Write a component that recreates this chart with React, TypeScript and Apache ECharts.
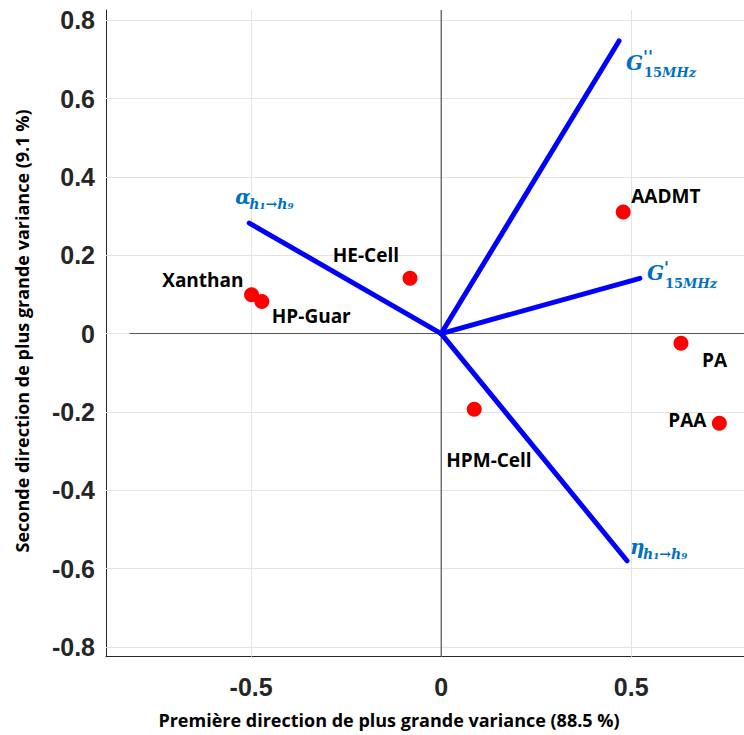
import React, { useEffect, useRef } from "react";
import * as echarts from "echarts";

// ---- data ----
const sampleNames = ["Control", "Xanthan", "HP-Guar", "HE-Cell", "AADMT", "PA", "PAA", "HPM-Cell"];
const sampleX = [-0.884, -0.499, -0.472, -0.082, 0.479, 0.631, 0.732, 0.087];
const sampleY = [-0.171, 0.099, 0.082, 0.141, 0.31, -0.025, -0.229, -0.193];

const vectorNames = ["G''15MHz", "G'15MHz", "alpha h1->h9", "eta h1->h9"];
const vectorX = [0.468, 0.523, -0.505, 0.489];
const vectorY = [0.747, 0.141, 0.282, -0.58];

const xTicks = [-0.5, 0, 0.5];
const yTicks = [-0.8, -0.6, -0.4, -0.2, 0, 0.2, 0.4, 0.6, 0.8];

const xTitle = "Première direction de plus grande variance (88.5 %)";
const yTitle = "Seconde direction de plus grande variance (9.1 %)";

// ---- styling (label placement relative to the points) ----
const X_MIN = -0.882;
const X_MAX = 0.85;
const Y_MIN = -0.825;
const Y_MAX = 0.826;

const sampleLabelPlacement: Record<string, { align: string; offset: [number, number] }> = {
  Control: { align: "left", offset: [7, 23] },
  Xanthan: { align: "right", offset: [-8, -15] },
  "HP-Guar": { align: "left", offset: [10, 15] },
  "HE-Cell": { align: "right", offset: [-11, -23] },
  AADMT: { align: "left", offset: [8, -16] },
  PA: { align: "left", offset: [21, 17] },
  PAA: { align: "right", offset: [-13, -3] },
  "HPM-Cell": { align: "left", offset: [-28, 51] },
};

const MATH_BLUE = "#0070c0";
const mathFont = "DejaVu Serif";
const labelFont = "Open Sans";

type Part = { text: string; dx: number; dy: number; size: number; lh?: number; italic?: boolean; rich?: boolean };
const vectorLabelParts: Part[][] = [
  [
    { text: "G", dx: 7, dy: 22, size: 20, lh: 18, italic: true },
    { text: "''", dx: 24, dy: 16, size: 16, lh: 7, italic: true },
    { text: "{n|15}{i|MHz}", dx: 25, dy: 31.5, size: 13, rich: true },
  ],
  [
    { text: "G", dx: 7, dy: -5, size: 20, lh: 18, italic: true },
    { text: "'", dx: 24, dy: -11, size: 16, lh: 7, italic: true },
    { text: "{n|15}{i|MHz}", dx: 25, dy: 5, size: 13, rich: true },
  ],
  [
    { text: "α", dx: -14, dy: -26, size: 20, italic: true },
    { text: "h₁→h₉", dx: 0, dy: -19, size: 14, italic: true },
  ],
  [
    { text: "η", dx: 3, dy: -14, size: 20, italic: true },
    { text: "h₁→h₉", dx: 16, dy: -7, size: 14, italic: true },
  ],
];

export default function App() {
  const ref = useRef<HTMLDivElement>(null);

  useEffect(() => {
    if (!ref.current) return;
    const chart = echarts.init(ref.current, undefined, { renderer: "svg" });

    const fmt = (v: number) => (Math.abs(v) < 1e-9 ? "0" : v.toFixed(1));

    const gridLines = [
      ...xTicks.map((x) => ({ xAxis: x })),
      ...yTicks.map((y) => ({ yAxis: y })),
    ];

    const series: any[] = [
      {
        type: "line",
        name: "zeroH",
        data: [
          [-0.82, 0],
          [X_MAX, 0],
        ],
        symbol: "none",
        silent: true,
        lineStyle: { color: "#555", width: 1 },
        z: 2,
        markLine: {
          silent: true,
          symbol: "none",
          label: { show: false },
          lineStyle: { color: "#e3e3e3", width: 1, type: "solid" },
          data: gridLines,
          z: 1,
        },
      },
      {
        type: "line",
        name: "zeroV",
        data: [
          [0, Y_MIN],
          [0, Y_MAX],
        ],
        symbol: "none",
        silent: true,
        lineStyle: { color: "#333", width: 1 },
        z: 2,
      },
      ...vectorNames.map((n, i) => ({
        type: "line",
        name: n,
        data: [
          [0, 0],
          [vectorX[i], vectorY[i]],
        ],
        symbol: "none",
        silent: true,
        lineStyle: { color: "#0000ff", width: 5, cap: "round" },
        z: 3,
      })),
      {
        type: "scatter",
        name: "samples",
        symbol: "circle",
        symbolSize: 15,
        itemStyle: { color: "#ff0000", opacity: 1 },
        z: 5,
        data: sampleNames.map((n, i) => {
          const pl = sampleLabelPlacement[n];
          return {
            name: n,
            value: [sampleX[i], sampleY[i]],
            label: {
              show: true,
              formatter: n,
              position: "inside",
              align: pl.align,
              verticalAlign: "middle",
              offset: pl.offset,
              color: "#000",
              fontFamily: labelFont,
              fontWeight: "bold",
              fontSize: 19,
            },
          };
        }),
      },
      {
        type: "custom",
        name: "vectorLabels",
        silent: true,
        z: 6,
        data: vectorX.map((x, i) => [x, vectorY[i], i]),
        renderItem: (params: any, api: any) => {
          const idx = api.value(2);
          const p = api.coord([api.value(0), api.value(1)]);
          const parts = vectorLabelParts[idx];
          return {
            type: "group",
            children: parts.map((pt) => ({
              type: "text",
              x: p[0] + pt.dx,
              y: p[1] + pt.dy,
              style: pt.rich
                ? {
                    text: pt.text,
                    fill: MATH_BLUE,
                    align: "left",
                    verticalAlign: "middle",
                    rich: {
                      n: { fontFamily: mathFont, fontWeight: "bold", fontSize: pt.size, lineHeight: 13, color: MATH_BLUE },
                      i: { fontFamily: mathFont, fontWeight: "bold", fontStyle: "italic", fontSize: pt.size, lineHeight: 13, color: MATH_BLUE },
                    },
                  }
                : {
                    text: pt.text,
                    fill: MATH_BLUE,
                    fontFamily: mathFont,
                    fontWeight: "bold",
                    fontStyle: pt.italic ? "italic" : "normal",
                    fontSize: pt.size,
                    lineHeight: pt.lh ?? pt.size,
                    align: "left",
                    verticalAlign: "middle",
                  },
            })),
          };
        },
      },
    ];

    chart.setOption({
      animation: false,
      backgroundColor: "#ffffff",
      grid: { left: 106, top: 10, width: 658.2, height: 646.7, containLabel: false },
      xAxis: {
        type: "value",
        min: X_MIN,
        max: X_MAX,
        position: "bottom",
        axisLine: { show: true, onZero: false, lineStyle: { color: "#262626", width: 1 } },
        axisTick: { show: true, inside: true, length: 7, customValues: xTicks, lineStyle: { color: "#262626" } },
        axisLabel: {
          show: true,
          customValues: xTicks,
          formatter: fmt,
          margin: 18,
          color: "#262626",
          fontFamily: "Liberation Sans",
          fontWeight: "bold",
          fontSize: 25,
        },
        splitLine: { show: false },
      },
      yAxis: {
        type: "value",
        min: Y_MIN,
        max: Y_MAX,
        position: "left",
        axisLine: { show: true, onZero: false, lineStyle: { color: "#262626", width: 1 } },
        axisTick: { show: true, inside: true, length: 7, customValues: yTicks, lineStyle: { color: "#262626" } },
        axisLabel: {
          show: true,
          customValues: yTicks,
          formatter: fmt,
          margin: 11,
          color: "#262626",
          fontFamily: "Liberation Sans",
          fontWeight: "bold",
          fontSize: 25,
        },
        splitLine: { show: false },
      },
      graphic: [
        {
          type: "text",
          x: 389,
          y: 720,
          style: {
            text: xTitle,
            fill: "#000",
            fontFamily: labelFont,
            fontWeight: "bold",
            fontSize: 18,
            align: "center",
            verticalAlign: "middle",
            textAlign: "center",
            textVerticalAlign: "middle",
          },
        },
        {
          type: "text",
          x: 22,
          y: 331,
          rotation: Math.PI / 2,
          style: {
            text: yTitle,
            fill: "#000",
            fontFamily: labelFont,
            fontWeight: "bold",
            fontSize: 18,
            align: "center",
            verticalAlign: "middle",
            textAlign: "center",
            textVerticalAlign: "middle",
          },
        },
      ],
      series,
    });

    return () => chart.dispose();
  }, []);

  return (
    <div style={{ position: "fixed", left: 0, top: 0, width: 744, height: 735, overflow: "hidden", background: "#fff" }}>
      <div ref={ref} style={{ width: 780, height: 735 }} />
    </div>
  );
}
